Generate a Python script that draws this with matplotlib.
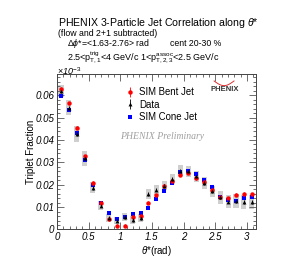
import numpy as np
import matplotlib
matplotlib.use("Agg")
import matplotlib.pyplot as plt
from matplotlib.ticker import MultipleLocator, FuncFormatter

plt.rcParams['font.family'] = ['Liberation Sans', 'DejaVu Sans']
plt.rcParams['mathtext.fontset'] = 'custom'
plt.rcParams['mathtext.rm'] = 'Liberation Sans'
plt.rcParams['mathtext.it'] = 'Liberation Sans:italic'

nbins = 25
theta = (np.arange(nbins) + 0.5) * np.pi / nbins

bent = [0.0628, 0.0564, 0.0455, 0.0327, 0.0208, 0.0120, 0.0047, 0.0016, 0.0016, 0.0058,
        0.0062, 0.0120, 0.0152, 0.0196, 0.0218, 0.0245, 0.0253, 0.0230, 0.0212, 0.0178,
        0.0143, 0.0140, 0.0155, 0.0160, 0.0158]
data = [0.0617, 0.0545, 0.0426, 0.0318, 0.0186, 0.0107, 0.0053, 0.0040, 0.0055, 0.0043,
        0.0050, 0.0158, 0.0178, 0.0196, 0.0226, 0.0263, 0.0260, 0.0237, 0.0208, 0.0170,
        0.0143, 0.0125, 0.0128, 0.0122, 0.0122]
cone = [0.0595, 0.0533, 0.0429, 0.0312, 0.0199, 0.0118, 0.0073, 0.0047, 0.0058, 0.0070,
        0.0073, 0.0095, 0.0136, 0.0170, 0.0208, 0.0255, 0.0263, 0.0248, 0.0222, 0.0188,
        0.0143, 0.0133, 0.0128, 0.0140, 0.0145]
data_sys = [0.0027, 0.0033, 0.0035, 0.0034, 0.0025, 0.0022, 0.0018, 0.0016, 0.0018, 0.0018,
            0.0018, 0.0022, 0.0022, 0.0020, 0.0022, 0.0025, 0.0025, 0.0025, 0.0025, 0.0025,
            0.0028, 0.0030, 0.0030, 0.0030, 0.0030]
data_stat = [0.0008] * nbins
bent_stat = [0.0007] * nbins

fig = plt.figure(figsize=(2.84, 2.68), dpi=100)
ax = fig.add_axes([0.2007, 0.1437, 0.7003, 0.5803])

d = np.array(data)
s = np.array(data_sys)
ax.bar(theta, 2 * s, bottom=d - s, width=0.08, color='#cfcfcf', edgecolor='none', zorder=1)
ax.errorbar(theta, bent, yerr=bent_stat, fmt='o', color='#ff0000', ms=3.2, mew=0,
            elinewidth=0.6, capsize=0, zorder=3, label='SIM Bent Jet')
ax.errorbar(theta, data, yerr=data_stat, fmt='^', color='black', ms=2.8, mew=0,
            elinewidth=0.6, capsize=0, zorder=4, label='Data')
ax.errorbar(theta, cone, fmt='s', color='#0000ff', ms=3.2, mew=0, zorder=2, label='SIM Cone Jet')

ax.set_xlim(0, np.pi)
ax.set_ylim(0, 0.0695)
ax.xaxis.set_major_locator(MultipleLocator(0.5))
ax.xaxis.set_minor_locator(MultipleLocator(0.1))
ax.yaxis.set_major_locator(MultipleLocator(0.01))
ax.yaxis.set_minor_locator(MultipleLocator(0.002))
ax.tick_params(which='both', direction='in', top=True, right=True, width=0.6, color='#555555')
ax.tick_params(which='major', length=5)
ax.tick_params(which='minor', length=2.5)
ax.tick_params(axis='both', labelsize=7, pad=2)
ax.xaxis.set_major_formatter(FuncFormatter(lambda v, p: ('%g' % v)))
ax.yaxis.set_major_formatter(FuncFormatter(lambda v, p: ('%g' % round(v, 3))))
for lab in ax.get_xticklabels() + ax.get_yticklabels():
    lab.set_style('italic')
for sp in ax.spines.values():
    sp.set_linewidth(0.7)
    sp.set_color('#444444')

ax.set_xlabel(r'$\theta$*(rad)', fontsize=7, labelpad=1)
ax.set_ylabel('Triplet Fraction', fontsize=7, labelpad=-0.5)

leg = ax.legend(loc='upper left', bbox_to_anchor=(0.33, 0.94), frameon=False, fontsize=6.9,
                handlelength=0.7, handletextpad=0.6, labelspacing=0.25, borderaxespad=0)

ax.text(0.315, 0.595, 'PHENIX Preliminary', transform=ax.transAxes, fontsize=7,
        family='Liberation Serif', style='italic', color='#a0a0a0', va='center')
ax.text(0.77, 0.9, 'PHENIX', transform=ax.transAxes, fontsize=5.5, weight='bold',
        color='#333333', va='center')
tt = np.linspace(0, 1, 20)
ax.plot(0.79 + 0.1 * tt, 0.955 - 0.03 * np.sin(np.pi * tt), transform=ax.transAxes,
        color='#e03030', lw=0.7)

fig.text(0.204, 0.914, r'PHENIX 3-Particle Jet Correlation along $\theta$*', fontsize=7.6, va='center')
fig.text(0.204, 0.876, '(flow and 2+1 subtracted)', fontsize=6.3, va='center')
fig.text(0.236, 0.836, r'$\Delta\phi$*=<1.63-2.76> rad', fontsize=6.3, va='center')
fig.text(0.598, 0.836, 'cent 20-30 %', fontsize=6.3, va='center')
fig.text(0.236, 0.785, r'2.5<p$_{\mathrm{T,1}}^{\mathrm{trig}}$<4 GeV/c 1<p$_{\mathrm{T,2,3}}^{\mathrm{assoc}}$<2.5 GeV/c',
         fontsize=6.5, va='center')
fig.text(0.2, 0.735, r'$\times$10$^{-3}$', fontsize=6.5, style='italic', va='center')

fig.savefig('out.png', dpi=100)
